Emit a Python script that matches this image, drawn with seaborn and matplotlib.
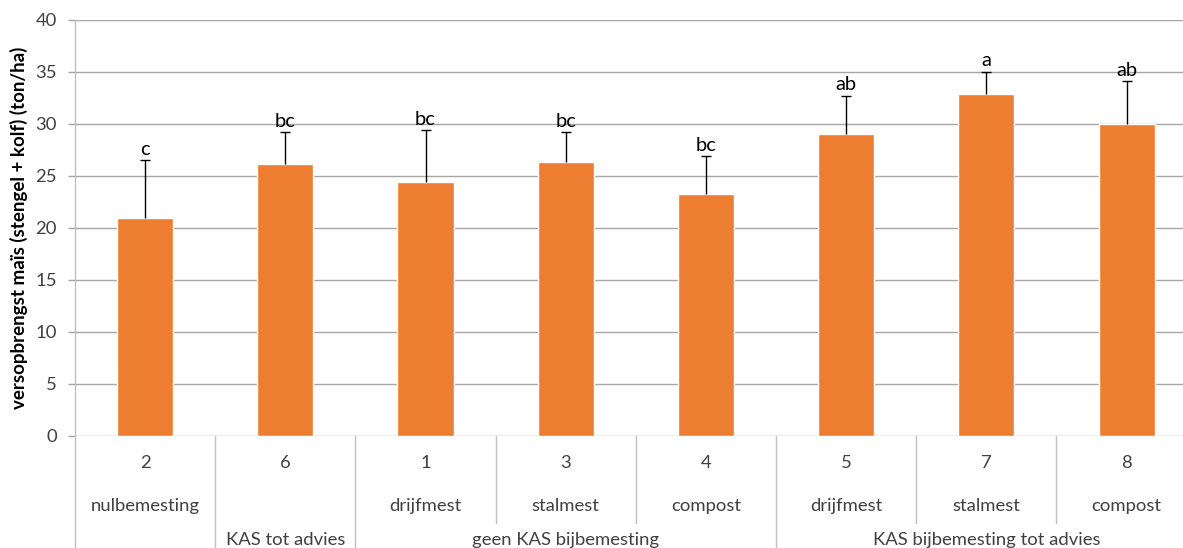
import matplotlib
matplotlib.use("Agg")
import matplotlib.pyplot as plt
import matplotlib.transforms as mtransforms
import seaborn as sns
import pandas as pd

# Treatment numbers, fertiliser type and fertiliser scheme
objects = ["2", "6", "1", "3", "4", "5", "7", "8"]
manure = ["nulbemesting", "", "drijfmest", "stalmest", "compost",
          "drijfmest", "stalmest", "compost"]
schemes = [("", 0, 0),
           ("KAS tot advies", 1, 1),
           ("geen KAS bijbemesting", 2, 4),
           ("KAS bijbemesting tot advies", 5, 7)]

# Fresh yield of maize (ton/ha), standard deviation and significance letters
yield_mean = [21.0, 26.2, 24.4, 26.3, 23.3, 29.0, 32.9, 30.0]
yield_sd = [5.5, 3.0, 5.0, 2.9, 3.6, 3.7, 2.1, 4.1]
letters = ["c", "bc", "bc", "bc", "bc", "ab", "a", "ab"]

df = pd.DataFrame({"object": objects, "yield": yield_mean})

sns.set_theme(style="white")
plt.rcParams["font.family"] = ["Lato", "DejaVu Sans"]

W, H = 1183, 548
fig = plt.figure(figsize=(W / 100, H / 100), dpi=100)
ax = fig.add_axes([75 / W, (548 - 436) / H, 1121.7 / W, 416 / H])

orange = "#ED7D31"
grid_c = "#A6A6A6"
text_c = "#404040"
lab_fs = 13.3

sns.barplot(data=df, x="object", y="yield", order=objects, color=orange,
            width=0.4, saturation=1, errorbar=None, ax=ax, zorder=2)

# One-sided (upper) error bars with a cap on top only
xs = list(range(len(objects)))
tops = [m + s for m, s in zip(yield_mean, yield_sd)]
ax.vlines(xs, yield_mean, tops, colors="black", linewidth=1.0, zorder=3)
ax.plot(xs, tops, linestyle="none", marker="_", markersize=7,
        markeredgewidth=1.0, color="black", zorder=3)

for x, t, lab in zip(xs, tops, letters):
    ax.annotate(lab, (x, t), xytext=(0, 4), textcoords="offset points",
                ha="center", va="baseline", fontsize=14.5, color="black")

ax.set_xlim(-0.5, len(objects) - 0.5)
ax.set_ylim(0, 40)
ax.set_yticks(range(0, 41, 5))
ax.yaxis.grid(True, color=grid_c, linewidth=1.0)
ax.set_axisbelow(True)
for side in ["top", "right", "bottom"]:
    ax.spines[side].set_visible(False)
ax.spines["left"].set_color("#BFBFBF")
ax.spines["left"].set_linewidth(1.0)
ax.tick_params(axis="y", length=5, width=1.0, color=grid_c, pad=8,
               labelsize=lab_fs, labelcolor=text_c, left=True)
ax.set_xticks([])
ax.set_xlabel("")
ax.set_ylabel("versopbrengst maïs (stengel + kolf) (ton/ha)", fontsize=13.5,
              fontweight="bold", color="black", labelpad=5)

# Multi-level category axis below the plot area
trans = mtransforms.blended_transform_factory(ax.transData, ax.transAxes)
y_full = -112 / 416
y_part = -87 / 416
y_num = -27 / 416
y_sub = -70 / 416
y_grp = -104 / 416

full_edges = {-0.5}
for _, a, b in schemes:
    full_edges.add(a - 0.5)
    full_edges.add(b + 0.5)
for e in range(len(objects) + 1):
    x = e - 0.5
    y_end = y_full if x in full_edges else y_part
    ax.plot([x, x], [0, y_end], color="#BFBFBF", lw=1.0, transform=trans,
            clip_on=False)

for x, num, sub in zip(xs, objects, manure):
    ax.text(x, y_num, num, transform=trans, ha="center", va="center",
            fontsize=lab_fs, color=text_c)
    if sub:
        ax.text(x, y_sub, sub, transform=trans, ha="center", va="center",
                fontsize=lab_fs, color=text_c)
for name, a, b in schemes:
    if name:
        ax.text((a + b) / 2, y_grp, name, transform=trans, ha="center",
                va="center", fontsize=lab_fs, color=text_c)

fig.savefig("out.png", dpi=100)
